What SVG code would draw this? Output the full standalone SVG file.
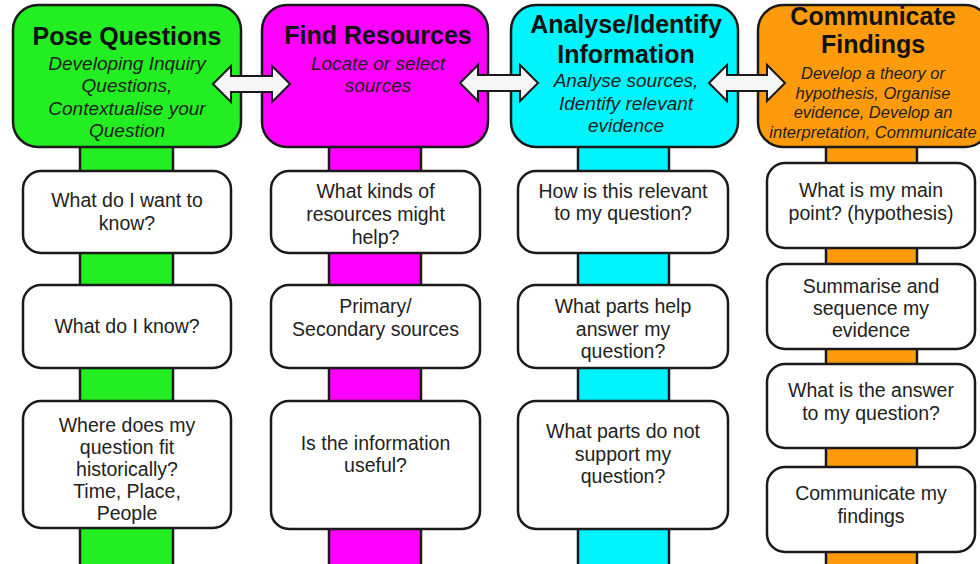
<svg xmlns="http://www.w3.org/2000/svg" width="980" height="564" viewBox="0 0 980 564">
<defs>
<style>
.bg{fill:#ffffff}
.hdr{stroke:#1a1a1a;stroke-width:2.5}
.bar{stroke:#1a1a1a;stroke-width:2.5}
.box{fill:#ffffff;stroke:#1a1a1a;stroke-width:2.5}
.arrow{fill:#f6f6f6;stroke:#1a1a1a;stroke-width:2;stroke-linejoin:miter}
.green{fill:#22ee22}
.mag{fill:#ff00ff}
.cyan{fill:#00f4fb}
.orange{fill:#fd9b0c}
text{font-family:"Liberation Sans",Arial,sans-serif;text-anchor:middle}
.title{font-size:25px;font-weight:bold;fill:#111111}
.sub{font-size:19px;font-style:italic;fill:#1e1e1e}
.sub2{font-size:16.5px;font-style:italic;fill:#1e1e1e}
.body{font-size:19.5px;fill:#222222}
</style>
<path id="dbl" d="M0,0 L18,-18 L18,-8 L-18,-8"/>
</defs>
<rect class="bg" x="0" y="0" width="980" height="564"/>

<g id="connectors">
<rect class="bar green" x="80" y="140" width="93" height="432"/>
<rect class="bar mag" x="329" y="140" width="92" height="432"/>
<rect class="bar cyan" x="578" y="140" width="91" height="432"/>
<rect class="bar orange" x="826" y="140" width="91" height="432"/>
</g>

<g id="col1-header">
<rect class="hdr green" x="13" y="5" width="228" height="142" rx="25"/>
<text class="title" x="127" y="45">Pose Questions</text>
<text class="sub" x="127" y="70">Developing Inquiry</text>
<text class="sub" x="127" y="92">Questions,</text>
<text class="sub" x="127" y="115">Contextualise your</text>
<text class="sub" x="127" y="137">Question</text>
</g>
<g id="col2-header">
<rect class="hdr mag" x="262" y="5" width="226" height="142" rx="25"/>
<text class="title" x="378" y="44">Find Resources</text>
<text class="sub" x="378" y="70">Locate or select</text>
<text class="sub" x="378" y="92">sources</text>
</g>
<g id="col3-header">
<rect class="hdr cyan" x="511" y="5" width="227" height="142" rx="25"/>
<text class="title" x="626" y="33">Analyse/Identify</text>
<text class="title" x="626" y="63">Information</text>
<text class="sub" x="626" y="87">Analyse sources,</text>
<text class="sub" x="626" y="110">Identify relevant</text>
<text class="sub" x="626" y="132">evidence</text>
</g>
<g id="col4-header">
<rect class="hdr orange" x="758" y="5" width="232" height="142" rx="25"/>
<text class="title" x="873" y="25">Communicate</text>
<text class="title" x="873" y="53">Findings</text>
<text class="sub2" x="873" y="79">Develop a theory or</text>
<text class="sub2" x="873" y="98.5">hypothesis, Organise</text>
<text class="sub2" x="873" y="118">evidence, Develop an</text>
<text class="sub2" x="873" y="137.5">interpretation, Communicate</text>
</g>

<g id="c1b1"><rect class="box" x="23" y="171" width="208" height="82" rx="18"/>
<text class="body" x="127" y="207">What do I want to</text><text class="body" x="127" y="230">know?</text></g>
<g id="c1b2"><rect class="box" x="23" y="285" width="208" height="83" rx="18"/>
<text class="body" x="127" y="333">What do I know?</text></g>
<g id="c1b3"><rect class="box" x="23" y="401" width="208" height="127" rx="18"/>
<text class="body" x="127" y="432">Where does my</text>
<text class="body" x="127" y="454">question fit</text>
<text class="body" x="127" y="476">historically?</text>
<text class="body" x="127" y="498">Time, Place,</text>
<text class="body" x="127" y="520">People</text></g>

<g id="c2b1"><rect class="box" x="271" y="171" width="209" height="82" rx="18"/>
<text class="body" x="375.5" y="198">What kinds of</text>
<text class="body" x="375.5" y="221">resources might</text>
<text class="body" x="375.5" y="244">help?</text></g>
<g id="c2b2"><rect class="box" x="271" y="285" width="209" height="83" rx="18"/>
<text class="body" x="375.5" y="313">Primary/</text>
<text class="body" x="375.5" y="336">Secondary sources</text></g>
<g id="c2b3"><rect class="box" x="271" y="401" width="209" height="128" rx="18"/>
<text class="body" x="375.5" y="450">Is the information</text>
<text class="body" x="375.5" y="472">useful?</text></g>

<g id="c3b1"><rect class="box" x="518" y="171" width="210" height="82" rx="18"/>
<text class="body" x="623" y="198">How is this relevant</text>
<text class="body" x="623" y="220">to my question?</text></g>
<g id="c3b2"><rect class="box" x="518" y="285" width="210" height="83" rx="18"/>
<text class="body" x="623" y="313">What parts help</text>
<text class="body" x="623" y="336">answer my</text>
<text class="body" x="623" y="358">question?</text></g>
<g id="c3b3"><rect class="box" x="518" y="401" width="210" height="128" rx="18"/>
<text class="body" x="623" y="438">What parts do not</text>
<text class="body" x="623" y="461">support my</text>
<text class="body" x="623" y="483">question?</text></g>

<g id="c4b1"><rect class="box" x="767" y="163" width="208" height="85" rx="18"/>
<text class="body" x="871" y="197">What is my main</text>
<text class="body" x="871" y="220">point? (hypothesis)</text></g>
<g id="c4b2"><rect class="box" x="767" y="264" width="208" height="85" rx="18"/>
<text class="body" x="871" y="293">Summarise and</text>
<text class="body" x="871" y="315">sequence my</text>
<text class="body" x="871" y="337">evidence</text></g>
<g id="c4b3"><rect class="box" x="767" y="364" width="208" height="84" rx="18"/>
<text class="body" x="871" y="397">What is the answer</text>
<text class="body" x="871" y="420">to my question?</text></g>
<g id="c4b4"><rect class="box" x="767" y="467" width="208" height="85" rx="18"/>
<text class="body" x="871" y="500">Communicate my</text>
<text class="body" x="871" y="523">findings</text></g>

<g id="arrows">
<path class="arrow" d="M213,84 L231,66 L231,76 L272,76 L272,66 L290,84 L272,102 L272,92 L231,92 L231,102 Z"/>
<path class="arrow" d="M460,83 L478,65 L478,75 L520,75 L520,65 L538,83 L520,101 L520,91 L478,91 L478,101 Z"/>
<path class="arrow" d="M709,83 L727,65 L727,75 L767,75 L767,65 L785,83 L767,101 L767,91 L727,91 L727,101 Z"/>
</g>
</svg>
